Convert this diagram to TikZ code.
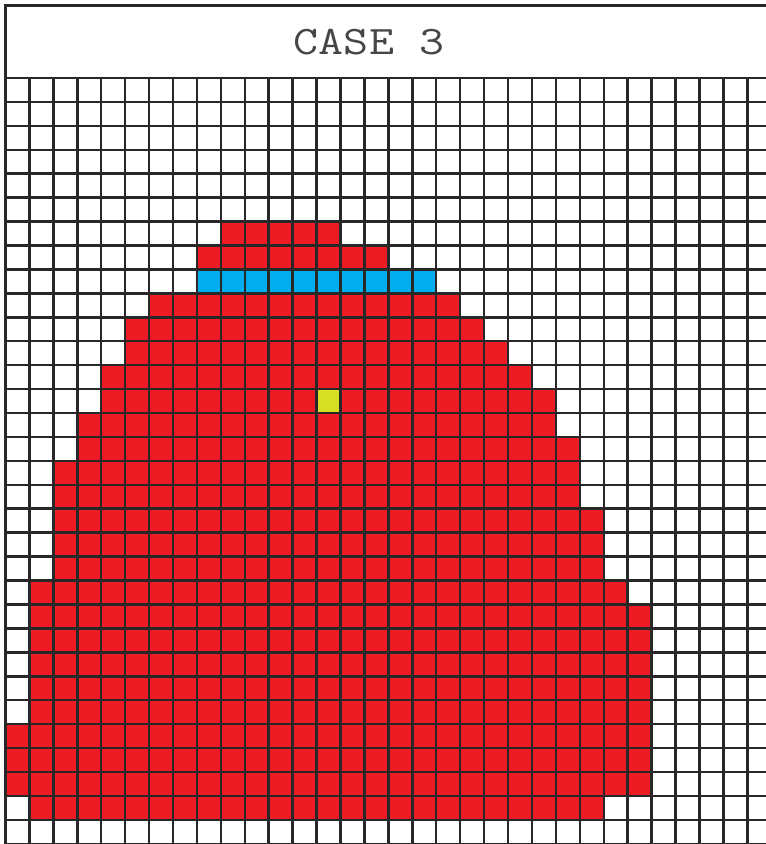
\documentclass[tikz,border=0pt]{standalone}
\usepackage{graphicx}
\definecolor{cellred}{RGB}{237,28,36}
\definecolor{cellblue}{RGB}{0,174,239}
\definecolor{cellyellow}{RGB}{215,223,35}
\definecolor{gridline}{RGB}{40,40,40}
\definecolor{titletext}{RGB}{70,70,70}
\tikzset{
  gridstroke/.style={draw=gridline, line width=2.5pt},
  framestroke/.style={draw=gridline, line width=2.6pt},
  titlefont/.style={font=\ttfamily\fontsize{40.5}{40.5}\selectfont, text=titletext, inner sep=0pt}
}
\begin{document}
\begin{tikzpicture}[x=1pt,y=-1pt]
\useasboundingbox (0,0) rectangle (766,844);
\clip (0,0) rectangle (766,844);
\fill[white] (0,0) rectangle (766,844);
\begin{scope}[shift={(5.5pt,-78pt)},x=23.93pt,y=-23.93pt]
  \foreach \r/\a/\b in {6/9/13,7/8/15,9/6/18,10/5/19,11/5/20,12/4/21,13/4/22,
      14/3/22,15/3/23,16/2/23,17/2/23,18/2/24,19/2/24,20/2/24,21/1/25,
      22/1/26,23/1/26,24/1/26,25/1/26,26/1/26,27/0/26,28/0/26,29/0/26,30/1/24}
    \fill[cellred] (\a,\r) rectangle (\b+1,\r+1);
  \fill[cellblue] (8,8) rectangle (18,9);
  \fill[cellyellow] (13,13) rectangle (14,14);
  \foreach \i in {0,...,32} \draw[gridstroke] (\i,0) -- (\i,32);
  \foreach \j in {0,...,32} \draw[gridstroke] (0,\j) -- (33,\j);
\end{scope}
\draw[framestroke] (5.5,78) -- (5.5,5.5) -- (800,5.5);
\node[titlefont] (title) at (369,41.7) {\scalebox{1.2}[1]{CASE 3}};
\end{tikzpicture}
\end{document}
